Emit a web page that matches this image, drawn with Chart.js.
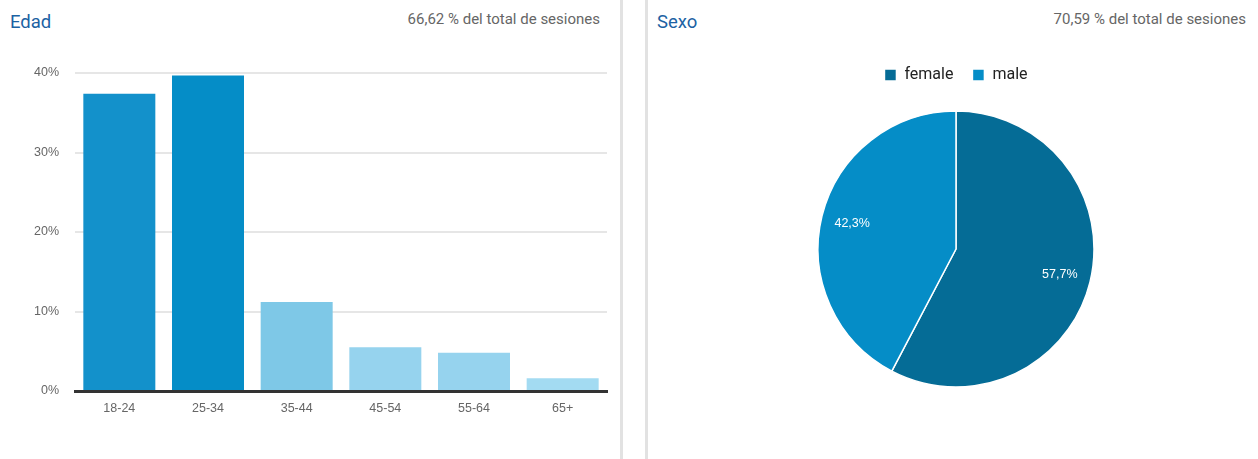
<!DOCTYPE html>
<html>
<head>
<meta charset="utf-8">
<script src="https://cdn.jsdelivr.net/npm/chart.js"></script>
<style>
  body { margin: 0; background: #fff; width: 1258px; height: 459px; overflow: hidden; position: relative; font-family: Roboto, sans-serif; }
  .title { position: absolute; top: 11px; font-size: 18.5px; color: #1c62a3; }
  .sub { position: absolute; top: 10px; font-size: 15px; color: #666; text-align: right; }
  .divider { position: absolute; top: 0; width: 3px; height: 459px; background: #e2e2e2; }
  canvas { position: absolute; }
</style>
</head>
<body>
<div class="title" style="left:10px">Edad</div>
<div class="sub" style="right:658px">66,62 % del total de sesiones</div>
<div class="divider" style="left:620px"></div>
<div class="divider" style="left:645px"></div>
<div class="title" style="left:657px">Sexo</div>
<div class="sub" style="right:12px">70,59 % del total de sesiones</div>

<canvas id="ageChart" width="620" height="459" style="left:0;top:0"></canvas>
<canvas id="sexChart" width="610" height="419" style="left:651px;top:40px"></canvas>

<script>
// age distribution (% of sessions)
const ageLabels = ['18-24', '25-34', '35-44', '45-54', '55-64', '65+']
const ageValues = [37.4, 39.7, 11.2, 5.5, 4.8, 1.6]
const ageColors = ['#1391cb', '#058dc7', '#7ec8e7', '#96d3ee', '#96d3ee', '#a3dbf2']
const ageTicks = [0, 10, 20, 30, 40]

// gender split
const sexLabels = ['female', 'male']
const sexValues = [57.7, 42.3]
const sexColors = ['#056c96', '#058dc7']

const tickFont = { family: 'Liberation Sans', size: 12.5 }

new Chart($('ageChart'), {
    type: 'bar',
    data: {
        labels: ageLabels,
        datasets: [{
            data: ageValues,
            backgroundColor: ageColors,
            barPercentage: 0.812,
            categoryPercentage: 1
        }]
    },
    options: {
        responsive: false,
        animation: false,
        devicePixelRatio: 1,
        layout: { padding: { top: 73, right: 13, bottom: 28, left: 0 } },
        plugins: { legend: { display: false }, tooltip: { enabled: false } },
        scales: {
            x: {
                grid: { display: false },
                border: { color: '#333', width: 3 },
                ticks: { color: '#666', font: tickFont, padding: 2 },
                afterFit: (scale) => { scale.height = 40 }
            },
            y: {
                min: 0,
                max: 40,
                afterBuildTicks: (scale) => { scale.ticks = ageTicks.map(v => ({ value: v })) },
                ticks: { color: '#666', font: tickFont, padding: 16, callback: v => v + '%' },
                grid: { color: '#e6e6e6', lineWidth: 2, drawTicks: false },
                border: { display: false },
                afterFit: (scale) => { scale.width = 75 }
            }
        }
    }
})

// white percentage labels inside the slices
const sliceLabels = {
    id: 'sliceLabels',
    afterDatasetsDraw(chart) {
        const ctx = chart.ctx
        const meta = chart.getDatasetMeta(0)
        ctx.save()
        ctx.fillStyle = '#fff'
        ctx.font = '12.5px "Liberation Sans"'
        ctx.textAlign = 'center'
        ctx.textBaseline = 'middle'
        meta.data.forEach((arc, i) => {
            const p = arc.getProps(['x', 'y', 'startAngle', 'endAngle', 'outerRadius'], true)
            const mid = (p.startAngle + p.endAngle) / 2
            const r = p.outerRadius * 0.775
            const txt = sexValues[i].toFixed(1).replace('.', ',') + '%'
            ctx.fillText(txt, p.x + Math.cos(mid) * r, p.y + Math.sin(mid) * r)
        })
        ctx.restore()
    }
}

new Chart($('sexChart'), {
    type: 'pie',
    data: {
        labels: sexLabels,
        datasets: [{
            data: sexValues,
            backgroundColor: sexColors,
            borderColor: '#fff',
            borderWidth: 1.5
        }]
    },
    options: {
        responsive: false,
        animation: false,
        devicePixelRatio: 1,
        radius: 138,
        layout: { padding: { top: 8, bottom: 54 } },
        plugins: {
            tooltip: { enabled: false },
            legend: {
                position: 'top',
                labels: {
                    boxWidth: 12,
                    boxHeight: 12,
                    padding: 19,
                    color: '#222',
                    font: { family: 'Roboto', size: 16 }
                }
            }
        }
    },
    plugins: [sliceLabels]
})

function $(id) { return document.getElementById(id) }
</script>
</body>
</html>
